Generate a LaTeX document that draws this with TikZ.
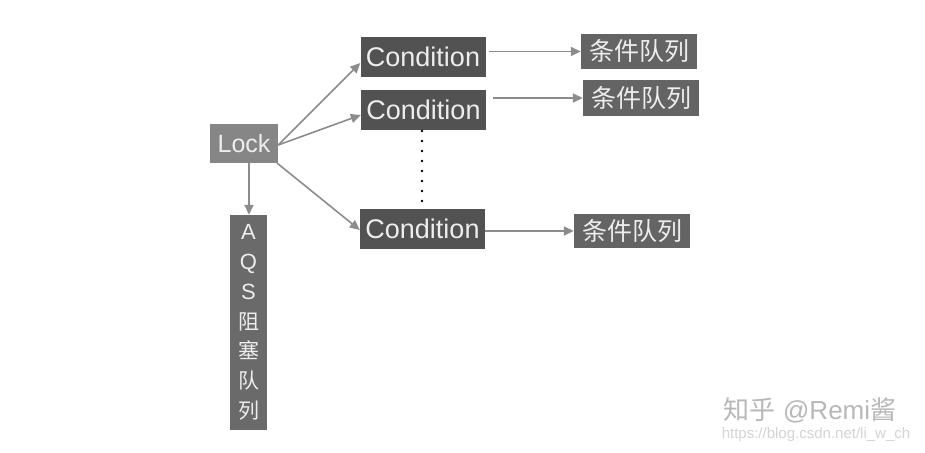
\documentclass[tikz,border=0pt]{standalone}
\usepackage{fontspec}
\setmainfont{Liberation Sans}
\newfontfamily\cjk{Noto Sans CJK SC}
\usetikzlibrary{arrows.meta}
\definecolor{lockfill}{HTML}{868686}
\definecolor{condfill}{HTML}{525252}
\definecolor{queuefill}{HTML}{646464}
\definecolor{aqsfill}{HTML}{6A6A6A}
\definecolor{boxtext}{HTML}{EDEDED}
\definecolor{arrowc}{HTML}{8C8C8C}
\definecolor{wm}{HTML}{B8B8B8}
\definecolor{wmlight}{HTML}{D4D4D4}
\tikzset{
  boxnode/.style={inner sep=0pt, text=boxtext, anchor=center},
  locknode/.style={boxnode, fill=lockfill, minimum width=68pt, minimum height=39pt, font=\fontsize{25}{25}\selectfont},
  condnode/.style={boxnode, fill=condfill, minimum width=125pt, minimum height=40pt, font=\fontsize{27}{27}\selectfont},
  queuenode/.style={boxnode, fill=queuefill, minimum width=116pt, minimum height=34pt, font=\cjk\fontsize{25}{25}\selectfont},
  aqsnode/.style={boxnode, fill=aqsfill, minimum width=37pt, minimum height=215pt, align=center, font=\fontsize{22}{29.8}\selectfont},
  conn/.style={draw=arrowc, line width=1.6pt, -{Triangle[length=10pt,width=9pt]}},
  dotline/.style={draw=black, line width=2.6pt, line cap=round, dash pattern=on 0pt off 10pt}
}
\begin{document}
\begin{tikzpicture}[x=1pt,y=-1pt]
\useasboundingbox (0,0) rectangle (925,452);
\fill[white] (0,0) rectangle (925,452);
\node[locknode] (lock) at (244,143.5) {Lock};
\node[condnode] (c1) at (423,57) {Condition};
\node[condnode] (c2) at (423.5,109.5) {Condition};
\node[condnode] (c3) at (422.5,228.5) {Condition};
\node[queuenode] (q1) at (639,51.5) {条件队列};
\node[queuenode, minimum height=36pt] (q2) at (641,98) {条件队列};
\node[queuenode] (q3) at (632,231) {条件队列};
\node[aqsnode] (aqs) at (248.5,322.5) {A\\Q\\S\\{\cjk\fontsize{21}{29.8}\selectfont 阻}\\{\cjk\fontsize{21}{29.8}\selectfont 塞}\\{\cjk\fontsize{21}{29.8}\selectfont 队}\\{\cjk\fontsize{21}{29.8}\selectfont 列}};
\coordinate (d1) at (422,131);
\coordinate (d2) at (422,211);
\draw[dotline] (d1) -- (d2);
\draw[conn] ([yshift=-1.5pt]lock.east) -- ([yshift=-6pt]c1.west);
\draw[conn] ([yshift=-1.5pt]lock.east) -- ([yshift=-5.5pt]c2.west);
\draw[conn] ([xshift=-1pt]lock.south east) -- ([yshift=-1.5pt]c3.west);
\draw[conn] ([xshift=5pt]lock.south) -- ([xshift=0.5pt]aqs.north);
\draw[conn] ([xshift=3pt]c1.east |- q1.west) -- (q1.west);
\draw[conn] ([xshift=7pt]c2.east |- q2.west) -- (q2.west);
\draw[conn] (c3.east |- q3.west) -- (q3.west);
\node[text=wm, font=\fontsize{26}{26}\selectfont, anchor=center] (wm1) at (810,410) {{\cjk 知乎} @Remi{\cjk 酱}};
\node[text=wmlight, font=\fontsize{15}{15}\selectfont, anchor=center] (wm2) at (816,435) {https://blog.csdn.net/li\_w\_ch};
\end{tikzpicture}
\end{document}
